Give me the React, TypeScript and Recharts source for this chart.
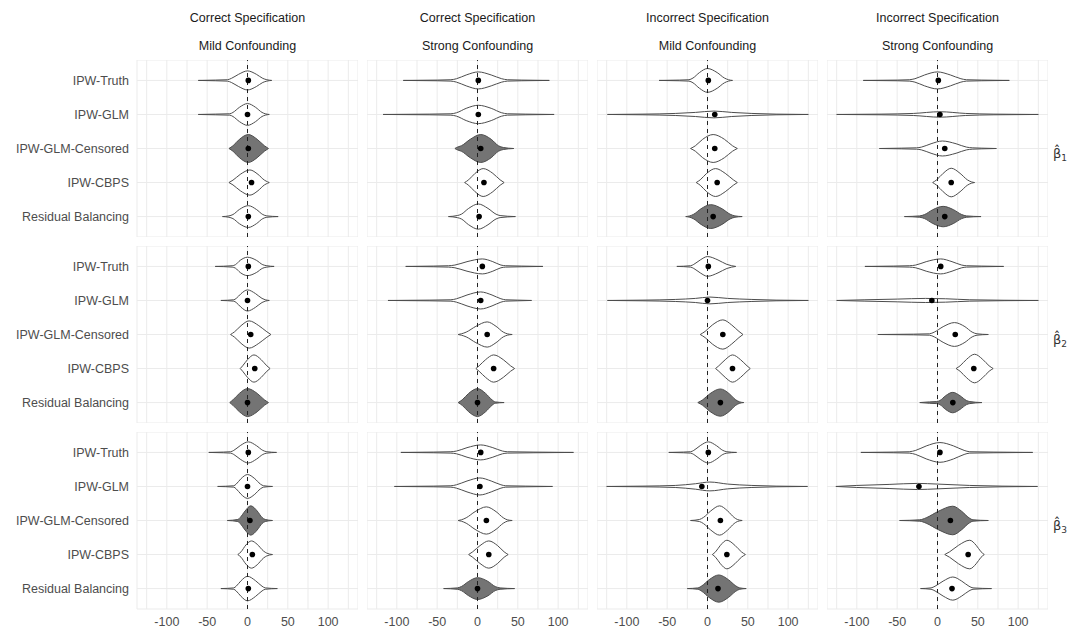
import React from 'react'
import { ComposedChart, Area, Scatter, XAxis, YAxis, CartesianGrid, ReferenceLine } from 'recharts'

const methods = ['IPW-Truth', 'IPW-GLM', 'IPW-GLM-Censored', 'IPW-CBPS', 'Residual Balancing']
const specLabels = ['Correct Specification', 'Correct Specification', 'Incorrect Specification', 'Incorrect Specification']
const confLabels = ['Mild Confounding', 'Strong Confounding', 'Mild Confounding', 'Strong Confounding']
const coefSubscripts = ['1', '2', '3']
const xTicks = [-125, -100, -75, -50, -25, 0, 25, 50, 75, 100, 125]
const xDomain = [-137, 137]

// mean estimate per column (panel), one value per method
const meansBeta1 = [[1, 0, 1, 5, 1], [1, 1, 4, 8, 2], [1, 9, 9, 12, 7], [1, 3, 9, 17, 9]]
const meansBeta2 = [[1, 0, 4, 9, 0], [6, 4, 12, 20, 0], [1, 0, 19, 31, 16], [4, -7, 22, 45, 19]]
const meansBeta3 = [[1, 0, 3, 6, 1], [4, 3, 11, 14, 0], [1, -7, 16, 24, 13], [3, -23, 16, 38, 18]]

// which method is shaded in each column
const shadedBeta1 = [2, 2, 4, 4]
const shadedBeta2 = [4, 4, 4, 4]
const shadedBeta3 = [2, 4, 4, 2]

// violin outlines: [estimate, half width in category units]
const violinsBeta1 = [
  [
    [[-61, 0], [-40, 0.01], [-25, 0.02], [-20, 0.06], [-11, 0.18], [0, 0.28], [11, 0.18], [19, 0.06], [24, 0.02], [30, 0]],
    [[-61, 0], [-40, 0.01], [-22, 0.02], [-18, 0.06], [-10, 0.21], [0, 0.32], [10, 0.21], [18, 0.06], [22, 0.02], [27, 0]],
    [[-23, 0], [-18, 0.08], [-10, 0.27], [1, 0.41], [12, 0.27], [21, 0.08], [26, 0]],
    [[-23, 0], [-18, 0.07], [-9, 0.24], [3, 0.37], [13, 0.24], [21, 0.07], [25, 0.02], [27, 0]],
    [[-31, 0], [-23, 0.02], [-18, 0.06], [-10, 0.21], [1, 0.32], [11, 0.21], [19, 0.06], [24, 0.02], [38, 0]],
  ],
  [
    [[-92, 0], [-50, 0.01], [-33, 0.02], [-26, 0.05], [-14, 0.16], [1, 0.25], [17, 0.16], [30, 0.05], [37, 0.02], [55, 0.01], [89, 0]],
    [[-117, 0], [-60, 0.01], [-33, 0.02], [-26, 0.05], [-14, 0.18], [1, 0.27], [17, 0.18], [30, 0.05], [37, 0.02], [60, 0.01], [95, 0]],
    [[-28, 0], [-26, 0.03], [-20, 0.08], [-9, 0.27], [4, 0.41], [17, 0.27], [26, 0.08], [32, 0.03], [45, 0]],
    [[-16, 0], [-11, 0.08], [-3, 0.27], [7, 0.41], [19, 0.27], [28, 0.08], [33, 0]],
    [[-36, 0], [-25, 0.03], [-20, 0.07], [-11, 0.24], [1, 0.37], [13, 0.24], [23, 0.07], [28, 0.03], [47, 0]],
  ],
  [
    [[-60, 0], [-35, 0.01], [-23, 0.02], [-18, 0.07], [-10, 0.23], [0, 0.35], [12, 0.23], [21, 0.07], [26, 0.02], [31, 0]],
    [[-124, 0], [-80, 0.01], [-40, 0.03], [-15, 0.06], [8, 0.1], [30, 0.06], [55, 0.03], [85, 0.01], [125, 0]],
    [[-21, 0], [-15, 0.08], [-6, 0.27], [7, 0.41], [21, 0.27], [31, 0.08], [37, 0]],
    [[-14, 0], [-9, 0.08], [-1, 0.27], [10, 0.41], [22, 0.27], [32, 0.08], [37, 0]],
    [[-27, 0], [-22, 0.02], [-17, 0.07], [-8, 0.23], [4, 0.35], [18, 0.23], [28, 0.07], [34, 0.02], [43, 0]],
  ],
  [
    [[-92, 0], [-50, 0.01], [-35, 0.02], [-28, 0.05], [-16, 0.16], [0, 0.25], [16, 0.16], [29, 0.05], [36, 0.02], [55, 0.01], [89, 0]],
    [[-125, 0], [-70, 0.01], [-30, 0.03], [3, 0.08], [35, 0.03], [70, 0.01], [125, 0]],
    [[-72, 0], [-45, 0.01], [-26, 0.02], [-20, 0.04], [-8, 0.14], [6, 0.22], [23, 0.14], [36, 0.04], [43, 0.02], [55, 0.01], [73, 0]],
    [[-6, 0], [-1, 0.08], [7, 0.27], [17, 0.42], [28, 0.27], [37, 0.08], [42, 0.02], [46, 0]],
    [[-41, 0], [-22, 0.02], [-16, 0.06], [-6, 0.2], [7, 0.3], [20, 0.2], [30, 0.06], [36, 0.02], [54, 0]],
  ],
]

const violinsBeta2 = [
  [
    [[-40, 0], [-19, 0.02], [-15, 0.05], [-9, 0.18], [0, 0.27], [11, 0.18], [19, 0.05], [24, 0.02], [33, 0]],
    [[-33, 0], [-17, 0.02], [-14, 0.06], [-8, 0.2], [0, 0.31], [10, 0.2], [18, 0.06], [22, 0.02], [27, 0]],
    [[-21, 0], [-16, 0.08], [-8, 0.26], [2, 0.4], [14, 0.26], [24, 0.08], [29, 0]],
    [[-9, 0], [-6, 0.08], [0, 0.26], [8, 0.4], [17, 0.26], [24, 0.08], [28, 0]],
    [[-22, 0], [-18, 0.08], [-10, 0.27], [0, 0.41], [12, 0.27], [21, 0.08], [26, 0]],
  ],
  [
    [[-89, 0], [-55, 0.01], [-36, 0.02], [-28, 0.04], [-13, 0.14], [6, 0.22], [19, 0.14], [29, 0.04], [35, 0.02], [55, 0.01], [81, 0]],
    [[-111, 0], [-60, 0.01], [-33, 0.02], [-26, 0.05], [-13, 0.16], [4, 0.25], [18, 0.16], [29, 0.05], [35, 0.02], [50, 0.01], [67, 0]],
    [[-24, 0], [-20, 0.02], [-14, 0.07], [-2, 0.24], [12, 0.37], [23, 0.24], [32, 0.07], [37, 0.02], [43, 0]],
    [[-2, 0], [2, 0.08], [10, 0.26], [20, 0.4], [32, 0.26], [41, 0.08], [46, 0]],
    [[-24, 0], [-19, 0.08], [-11, 0.27], [0, 0.41], [10, 0.27], [18, 0.08], [22, 0.02], [33, 0]],
  ],
  [
    [[-38, 0], [-21, 0.02], [-17, 0.06], [-9, 0.19], [0, 0.29], [13, 0.19], [24, 0.06], [30, 0.02], [35, 0]],
    [[-124, 0], [-80, 0.01], [-40, 0.03], [-15, 0.06], [3, 0.1], [25, 0.06], [55, 0.03], [85, 0.01], [125, 0]],
    [[-9, 0], [-3, 0.09], [6, 0.28], [19, 0.43], [30, 0.28], [39, 0.09], [44, 0]],
    [[10, 0], [14, 0.08], [22, 0.26], [31, 0.4], [41, 0.26], [49, 0.08], [53, 0]],
    [[-12, 0], [-6, 0.08], [3, 0.26], [16, 0.4], [27, 0.26], [35, 0.08], [40, 0.02], [45, 0]],
  ],
  [
    [[-90, 0], [-55, 0.01], [-35, 0.02], [-27, 0.04], [-14, 0.14], [4, 0.22], [18, 0.14], [30, 0.04], [36, 0.02], [55, 0.01], [82, 0]],
    [[-125, 0], [-90, 0.02], [-50, 0.04], [-15, 0.06], [10, 0.05], [40, 0.02], [125, 0]],
    [[-74, 0], [-30, 0.01], [-10, 0.02], [-4, 0.07], [7, 0.23], [21, 0.35], [34, 0.23], [43, 0.07], [49, 0.02], [63, 0]],
    [[23, 0], [28, 0.08], [36, 0.27], [46, 0.42], [56, 0.27], [64, 0.08], [69, 0]],
    [[-22, 0], [-10, 0.02], [-1, 0.03], [3, 0.06], [10, 0.2], [19, 0.3], [28, 0.2], [36, 0.06], [40, 0.03], [55, 0]],
  ],
]

const violinsBeta3 = [
  [
    [[-48, 0], [-30, 0.01], [-21, 0.02], [-17, 0.06], [-9, 0.2], [1, 0.31], [11, 0.2], [19, 0.06], [24, 0.02], [36, 0]],
    [[-37, 0], [-17, 0.02], [-14, 0.07], [-8, 0.23], [0, 0.35], [9, 0.23], [16, 0.07], [20, 0.02], [31, 0]],
    [[-25, 0], [-12, 0.03], [-9, 0.09], [-3, 0.28], [4, 0.43], [12, 0.28], [18, 0.09], [22, 0.03], [31, 0]],
    [[-12, 0], [-8, 0.08], [-2, 0.28], [5, 0.4], [12, 0.3], [20, 0.1], [24, 0.04], [31, 0]],
    [[-33, 0], [-17, 0.02], [-14, 0.07], [-8, 0.23], [0, 0.36], [10, 0.23], [18, 0.07], [22, 0.02], [37, 0]],
  ],
  [
    [[-95, 0], [-55, 0.01], [-33, 0.02], [-26, 0.04], [-13, 0.14], [4, 0.22], [19, 0.14], [31, 0.04], [37, 0.02], [70, 0.01], [119, 0]],
    [[-103, 0], [-55, 0.01], [-33, 0.02], [-26, 0.05], [-13, 0.16], [3, 0.25], [17, 0.16], [29, 0.05], [35, 0.02], [60, 0.01], [93, 0]],
    [[-24, 0], [-20, 0.02], [-14, 0.08], [-3, 0.26], [11, 0.4], [23, 0.26], [32, 0.08], [37, 0.02], [43, 0]],
    [[-11, 0], [-6, 0.08], [3, 0.26], [14, 0.4], [25, 0.26], [33, 0.08], [38, 0]],
    [[-42, 0], [-25, 0.02], [-20, 0.06], [-11, 0.21], [0, 0.32], [13, 0.21], [22, 0.06], [28, 0.02], [46, 0]],
  ],
  [
    [[-48, 0], [-30, 0.01], [-21, 0.02], [-17, 0.06], [-9, 0.2], [1, 0.31], [11, 0.2], [19, 0.06], [24, 0.02], [36, 0]],
    [[-125, 0], [-80, 0.01], [-40, 0.03], [-15, 0.08], [3, 0.13], [25, 0.07], [55, 0.03], [85, 0.01], [124, 0]],
    [[-21, 0], [-10, 0.03], [-5, 0.09], [4, 0.28], [15, 0.43], [25, 0.28], [33, 0.09], [37, 0.03], [43, 0]],
    [[6, 0], [10, 0.08], [16, 0.27], [24, 0.42], [34, 0.27], [42, 0.08], [47, 0]],
    [[-25, 0], [-12, 0.02], [-7, 0.08], [2, 0.26], [14, 0.4], [26, 0.26], [35, 0.08], [40, 0.02], [48, 0]],
  ],
  [
    [[-95, 0], [-55, 0.01], [-35, 0.02], [-27, 0.06], [-14, 0.19], [3, 0.29], [20, 0.19], [33, 0.06], [40, 0.02], [70, 0.01], [118, 0]],
    [[-126, 0], [-100, 0.03], [-60, 0.06], [-25, 0.09], [0, 0.07], [40, 0.03], [80, 0.01], [124, 0]],
    [[-47, 0], [-22, 0.02], [-14, 0.08], [1, 0.27], [19, 0.42], [30, 0.27], [39, 0.08], [44, 0.02], [63, 0]],
    [[9, 0], [15, 0.08], [26, 0.27], [40, 0.42], [48, 0.27], [54, 0.08], [58, 0]],
    [[-21, 0], [-8, 0.02], [-3, 0.07], [7, 0.22], [19, 0.34], [30, 0.22], [39, 0.07], [44, 0.02], [67, 0]],
  ],
]

const rows = [
  { means: meansBeta1, shaded: shadedBeta1, violins: violinsBeta1 },
  { means: meansBeta2, shaded: shadedBeta2, violins: violinsBeta2 },
  { means: meansBeta3, shaded: shadedBeta3, violins: violinsBeta3 },
]

const PANEL_W = 221
const PANEL_H = 177
const Y_LABEL_W = 137
const X_LABEL_H = 30
const colX = [137, 367, 597, 827]
const rowY = [60, 246, 432]
const FONT = '"Liberation Sans", Arial, sans-serif'

function Panel({ row, col }: { row: number; col: number }) {
  const { means, shaded, violins } = rows[row]
  const showY = col === 0
  const showX = row === 2
  const dots = means[col].map((m, i) => ({ x: m, y: i }))

  return (
    <div style={{ position: 'absolute', left: showY ? 0 : colX[col], top: rowY[row] }}>
      <ComposedChart
        width={showY ? Y_LABEL_W + PANEL_W : PANEL_W}
        height={showX ? PANEL_H + X_LABEL_H : PANEL_H}
        margin={{ top: 0, right: 0, bottom: 0, left: 0 }}
      >
        <CartesianGrid stroke="#ebebeb" strokeWidth={1} />
        <XAxis
          type="number"
          dataKey="x"
          domain={xDomain}
          ticks={xTicks}
          interval={0}
          allowDataOverflow
          hide={!showX}
          height={X_LABEL_H}
          axisLine={false}
          tickLine={false}
          tick={{ fill: '#4d4d4d', fontSize: 12.5 }}
          tickFormatter={(v: number) => (v % 50 === 0 ? String(v) : '')}
        />
        <YAxis
          type="number"
          dataKey="y"
          domain={[-0.6, 4.6]}
          reversed
          ticks={[0, 1, 2, 3, 4]}
          interval={0}
          allowDataOverflow
          hide={!showY}
          width={Y_LABEL_W}
          axisLine={false}
          tickLine={false}
          tick={{ fill: '#4d4d4d', fontSize: 12.5 }}
          tickFormatter={(v: number) => methods[v]}
        />
        {violins[col].map((profile, i) => (
          <Area
            key={methods[i]}
            data={profile.map(([x, hw]) => ({ x, band: [i - hw, i + hw] }))}
            dataKey="band"
            type="monotone"
            stroke="#4d4d4d"
            strokeWidth={1}
            fill={i === shaded[col] ? '#747474' : '#ffffff'}
            fillOpacity={1}
            dot={false}
            activeDot={false}
            isAnimationActive={false}
          />
        ))}
        <ReferenceLine x={0} stroke="#222" strokeWidth={1} strokeDasharray="4 4" />
        <Scatter
          data={dots}
          isAnimationActive={false}
          shape={(p: any) => <circle cx={p.cx} cy={p.cy} r={2.8} fill="#000" />}
        />
      </ComposedChart>
    </div>
  )
}

export default function App() {
  const rowCenters = rowY.map(y => y + PANEL_H / 2)
  return (
    <div style={{ position: 'absolute', left: 0, top: 0, width: 1077, height: 631, background: '#fff', fontFamily: FONT }}>
      {rows.map((_, r) => colX.map((_, c) => <Panel key={`${r}-${c}`} row={r} col={c} />))}
      <svg width={1077} height={631} style={{ position: 'absolute', left: 0, top: 0, pointerEvents: 'none' }}>
        {colX.map((x, c) => (
          <g key={c} fontSize={12.5} fill="#1a1a1a" textAnchor="middle">
            <text x={x + PANEL_W / 2} y={22}>{specLabels[c]}</text>
            <text x={x + PANEL_W / 2} y={50}>{confLabels[c]}</text>
          </g>
        ))}
        {rowCenters.map((cy, r) => (
          <text key={r} x={1053} y={cy + 9} fontSize={13} fill="#333" fontFamily='"DejaVu Sans", sans-serif'>
            {'\u03b2\u0302'}
            <tspan fontSize={9} dy={3}>{coefSubscripts[r]}</tspan>
          </text>
        ))}
      </svg>
    </div>
  )
}
